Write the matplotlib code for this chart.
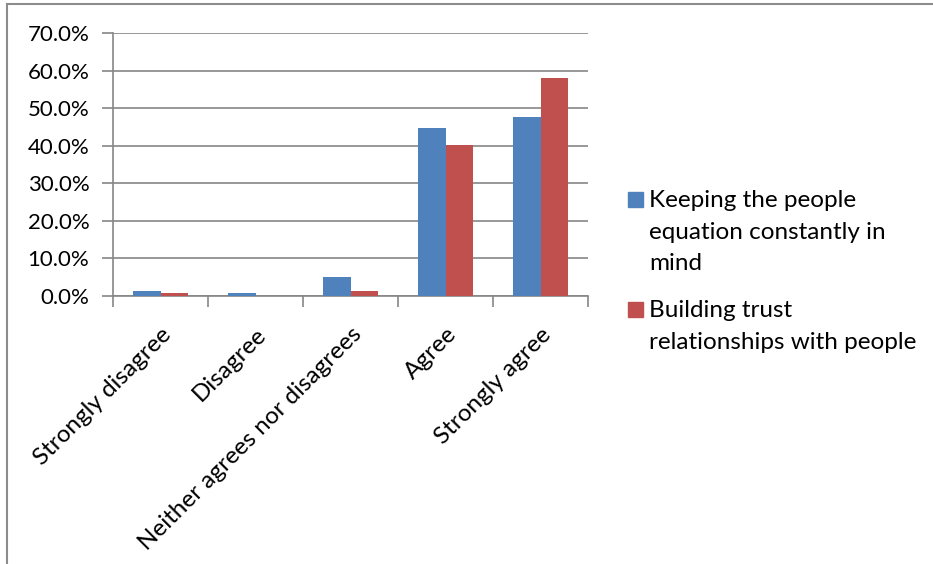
import numpy as np
import matplotlib
matplotlib.use('Agg')
import matplotlib.pyplot as plt
from matplotlib.lines import Line2D
from matplotlib.patches import Rectangle
from matplotlib.ticker import FuncFormatter

categories = ['Strongly disagree', 'Disagree', 'Neither agrees nor disagrees', 'Agree', 'Strongly agree']
keeping = [0.013, 0.007, 0.050, 0.448, 0.477]
building = [0.007, 0.000, 0.012, 0.401, 0.579]
series_names = [['Keeping the people', 'equation constantly in', 'mind'],
                ['Building trust', 'relationships with people']]
yticks = [0.0, 0.1, 0.2, 0.3, 0.4, 0.5, 0.6, 0.7]

blue = '#4F81BD'
red = '#C0504D'
gray = '#868686'

plt.rcParams['font.family'] = ['Lato', 'DejaVu Sans']
fs = 17.5

W, H = 933, 564
fig = plt.figure(figsize=(W / 100, H / 100), dpi=100)
ax = fig.add_axes([113 / W, 1 - 296 / H, (588 - 113) / W, (296 - 33) / H])

x = np.arange(len(categories))
w = 0.2857
ax.bar(x - w / 2, keeping, w, color=blue, zorder=3)
ax.bar(x + w / 2, building, w, color=red, zorder=3)

ax.set_xlim(-0.5, len(categories) - 0.5)
ax.set_ylim(0, 0.7)
ax.set_yticks(yticks)
ax.yaxis.set_major_formatter(FuncFormatter(lambda v, p: '{:.1f}%'.format(v * 100)))
ax.grid(axis='y', color=gray, lw=1.2, zorder=0)

ax.set_xticks(x)
ax.set_xticklabels(categories, rotation=45, ha='right', rotation_mode='anchor', fontsize=fs)
ax.set_xticks(np.arange(-0.5, len(categories)), minor=True)
ax.tick_params(axis='x', which='major', length=0, pad=20)
ax.tick_params(axis='x', which='minor', length=8, width=1.2, color=gray)
ax.tick_params(axis='y', length=8, width=1.2, color=gray, labelsize=16, pad=9)

for s in ['top', 'right']:
    ax.spines[s].set_visible(False)
for s in ['left', 'bottom']:
    ax.spines[s].set_color(gray)
    ax.spines[s].set_linewidth(1.2)

# legend drawn by hand so the square sits by the first line
baselines = [[207, 239, 270], [317, 349]]
for lines, bl, c in zip(series_names, baselines, [blue, red]):
    fig.patches.append(Rectangle((628 / W, 1 - bl[0] / H), 15 / W, 15 / H,
                                 transform=fig.transFigure, color=c))
    for txt, b in zip(lines, bl):
        fig.text(649 / W, 1 - b / H, txt, fontsize=fs, va='baseline', ha='left')

# outer frame of the chart area
fig.add_artist(Line2D([7 / W, 1], [1 - 4 / H, 1 - 4 / H], color='#8c8c8c', lw=1.5, transform=fig.transFigure))
fig.add_artist(Line2D([7 / W, 7 / W], [0, 1 - 4 / H], color='#8c8c8c', lw=1.5, transform=fig.transFigure))

fig.savefig('out.png', dpi=100)
